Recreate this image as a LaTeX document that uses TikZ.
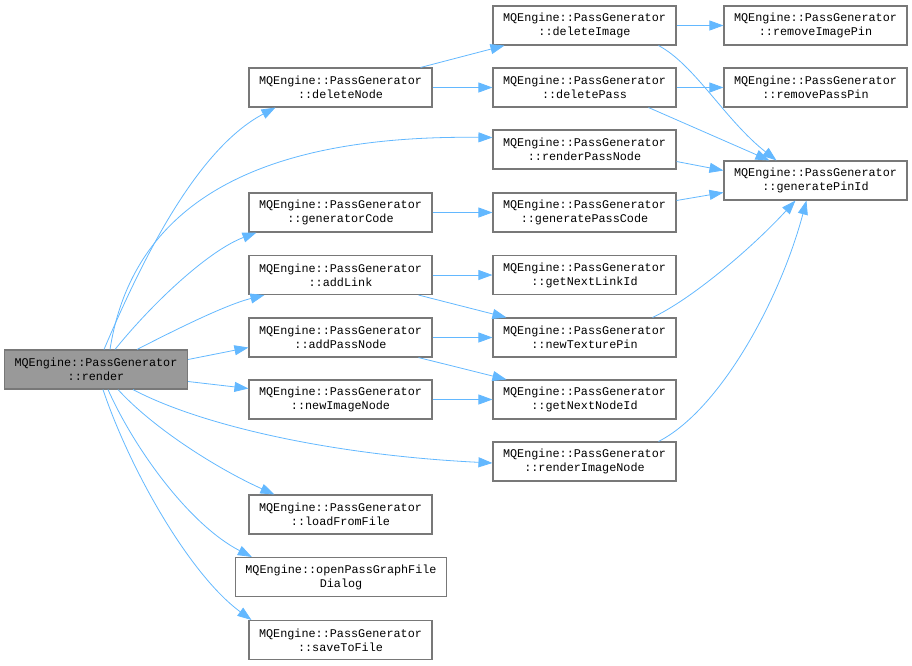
\documentclass[tikz,border=0pt]{standalone}
\usepackage{fontspec}
\setmonofont{Liberation Mono}
\usepackage{tikz}
\usetikzlibrary{arrows.meta}

\definecolor{edgeblue}{RGB}{99,184,255}
\definecolor{boxline}{RGB}{120,120,120}
\definecolor{boxfill}{RGB}{153,153,153}

\tikzset{
    fn/.style={draw=boxline, line width=1.1pt, fill=white, minimum width=183pt, minimum height=39pt,
        inner xsep=10pt, align=center, font=\ttfamily\fontsize{11.8}{14}\selectfont},
    cur/.style={fn, fill=boxfill},
    call/.style={draw=edgeblue, line width=0.8pt, -{Triangle[length=14pt, width=10pt]}}
}

\begin{document}
\begin{tikzpicture}[x=1pt, y=-1pt]
    \useasboundingbox (0,0) rectangle (912,665);

    \node[cur] (render) at (96,369.5) {MQEngine::PassGenerator\\::render};

    \node[fn] (deleteNode) at (340.5,87.5) {MQEngine::PassGenerator\\::deleteNode};
    \node[fn] (generatorCode) at (340.5,212.5) {MQEngine::PassGenerator\\::generatorCode};
    \node[fn] (addLink) at (340.5,275) {MQEngine::PassGenerator\\::addLink};
    \node[fn] (addPassNode) at (340.5,337.5) {MQEngine::PassGenerator\\::addPassNode};
    \node[fn] (newImageNode) at (340.5,399.5) {MQEngine::PassGenerator\\::newImageNode};
    \node[fn] (loadFromFile) at (340.5,514.5) {MQEngine::PassGenerator\\::loadFromFile};
    \node[fn] (openDialog) at (341,577) {MQEngine::openPassGraphFile\\Dialog};
    \node[fn] (saveToFile) at (340.5,640) {MQEngine::PassGenerator\\::saveToFile};

    \node[fn] (deleteImage) at (584.5,25.5) {MQEngine::PassGenerator\\::deleteImage};
    \node[fn] (deletePass) at (584.5,87.5) {MQEngine::PassGenerator\\::deletePass};
    \node[fn] (renderPassNode) at (584.5,149.5) {MQEngine::PassGenerator\\::renderPassNode};
    \node[fn] (generatePassCode) at (584.5,212.5) {MQEngine::PassGenerator\\::generatePassCode};
    \node[fn] (getNextLinkId) at (584.5,275) {MQEngine::PassGenerator\\::getNextLinkId};
    \node[fn] (newTexturePin) at (584.5,337.5) {MQEngine::PassGenerator\\::newTexturePin};
    \node[fn] (getNextNodeId) at (584.5,399.5) {MQEngine::PassGenerator\\::getNextNodeId};
    \node[fn] (renderImageNode) at (584.5,461.5) {MQEngine::PassGenerator\\::renderImageNode};

    \node[fn] (removeImagePin) at (815.5,25.5) {MQEngine::PassGenerator\\::removeImagePin};
    \node[fn] (removePassPin) at (815.5,87.5) {MQEngine::PassGenerator\\::removePassPin};
    \node[fn] (generatePinId) at (815.5,180.5) {MQEngine::PassGenerator\\::generatePinId};

    % calls made by render
    \draw[call] ([xshift=8pt]render.north) .. controls (140,265) and (195,150) .. ([xshift=27pt]deleteNode.south west);
    \draw[call] ([xshift=14pt]render.north) .. controls (135,190) and (280,135) .. ([yshift=12pt]renderPassNode.west);
    \draw[call] ([xshift=19pt]render.north) .. controls (155,300) and (210,250) .. ([xshift=8pt]generatorCode.south west);
    \draw[call] ([xshift=41pt]render.north) .. controls (175,330) and (225,305) .. ([xshift=16pt]addLink.south west);
    \draw[call] ([yshift=10pt]render.east) -- ([yshift=-10pt]addPassNode.west);
    \draw[call] ([yshift=-12pt]render.east) -- ([yshift=11pt]newImageNode.west);
    \draw[call] ([xshift=37pt]render.south) .. controls (200,425) and (330,455) .. ([yshift=-1.5pt]renderImageNode.west);
    \draw[call] ([xshift=22pt]render.south) .. controls (155,430) and (220,470) .. ([xshift=26pt]loadFromFile.north west);
    \draw[call] ([xshift=12pt]render.south) .. controls (135,450) and (190,525) .. ([xshift=17pt]openDialog.north west);
    \draw[call] ([xshift=7pt]render.south) .. controls (130,470) and (190,575) .. ([xshift=3pt]saveToFile.north west);

    % second level
    \draw[call] ([xshift=-12pt]deleteNode.north east) -- ([xshift=12pt]deleteImage.south west);
    \draw[call] (deleteNode) -- (deletePass);
    \draw[call] (generatorCode) -- (generatePassCode);
    \draw[call] (addLink) -- (getNextLinkId);
    \draw[call] ([xshift=-14pt]addLink.south east) -- ([xshift=14pt]newTexturePin.north west);
    \draw[call] (addPassNode) -- (newTexturePin);
    \draw[call] ([xshift=-14pt]addPassNode.south east) -- ([xshift=14pt]getNextNodeId.north west);
    \draw[call] (newImageNode) -- (getNextNodeId);

    % third level
    \draw[call] (deleteImage) -- (removeImagePin);
    \draw[call] (deletePass) -- (removePassPin);
    \draw[call] ([xshift=-18pt]deleteImage.south east) .. controls (695,65) and (725,120) .. ([xshift=53pt]generatePinId.north west);
    \draw[call] ([xshift=-28pt]deletePass.south east) -- ([xshift=46pt]generatePinId.north west);
    \draw[call] ([yshift=-12pt]renderPassNode.east) -- ([yshift=10pt]generatePinId.west);
    \draw[call] ([yshift=12pt]generatePassCode.east) -- ([yshift=-12pt]generatePinId.west);
    \draw[call] ([xshift=-24pt]newTexturePin.north east) .. controls (690,300) and (750,250) .. ([xshift=72pt]generatePinId.south west);
    \draw[call] ([xshift=-18pt]renderImageNode.north east) .. controls (720,410) and (780,300) .. ([xshift=83pt]generatePinId.south west);
\end{tikzpicture}
\end{document}
